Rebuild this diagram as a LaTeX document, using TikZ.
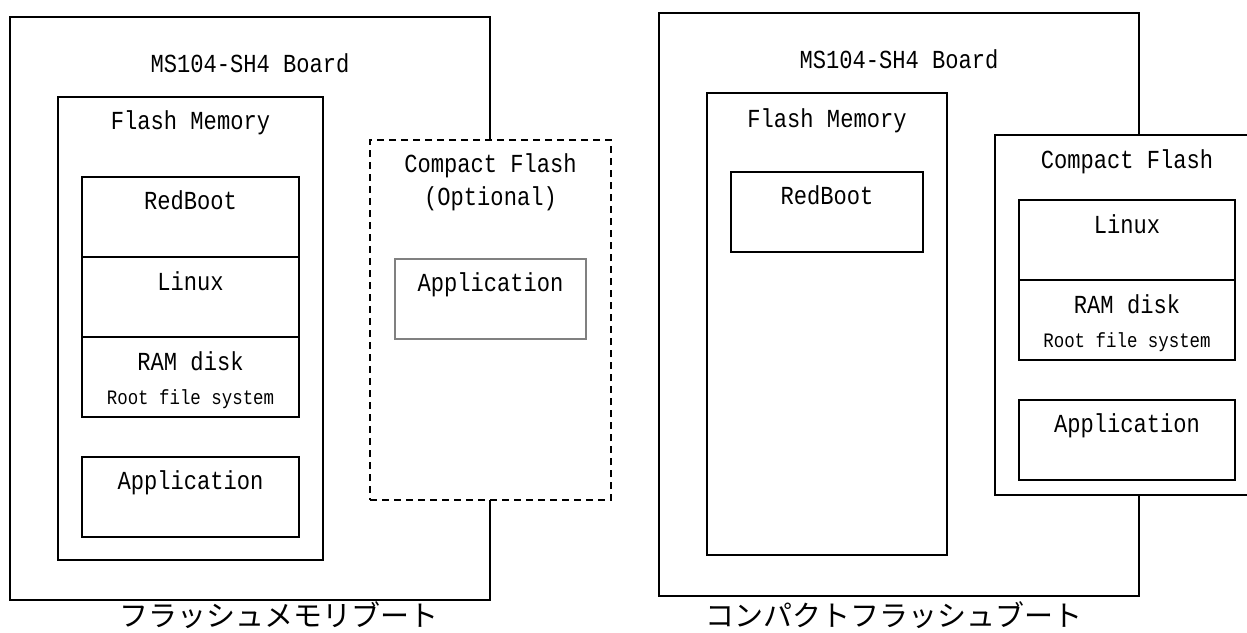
\documentclass[tikz,border=0pt]{standalone}
\usepackage{fontspec}
\usepackage{tikz}
\usetikzlibrary{positioning}
\newfontfamily\minchofont[FakeStretch=0.85]{Liberation Mono}
\newfontfamily\jpfont{Noto Sans CJK JP}

\tikzset{
  memblock/.style={draw, line width=1.5pt, fill=white, inner sep=0pt, outer sep=0pt, anchor=north west},
  optblock/.style={memblock, dash pattern=on 7pt off 5pt},
  appblock/.style={memblock, draw=black!50},
  lbl/.style={font=\minchofont\fontsize{26pt}{33pt}\selectfont, inner sep=0pt, anchor=base},
  smalllbl/.style={lbl, font=\minchofont\fontsize{20.5pt}{24pt}\selectfont},
  caption/.style={font=\jpfont\fontsize{29pt}{32pt}\selectfont, inner sep=0pt, anchor=base}
}

\begin{document}
\begin{tikzpicture}[x=1pt, y=-1pt]
  \useasboundingbox[fill=white] (0,0) rectangle (1247,632);

  % flash memory boot (left)
  \node[memblock, minimum width=480pt, minimum height=583pt] (lbrd) at (10,17) {};
  \node[lbl] (lbrdT) at ([yshift=-55pt]lbrd.north) {MS104-SH4 Board};
  \node[memblock, minimum width=265pt, minimum height=463pt] (lfm) at (58,97) {};
  \node[lbl] (lfmT) at ([yshift=-32pt]lfm.north) {Flash Memory};
  \node[memblock, minimum width=217pt, minimum height=80pt] (lrb) at (82,177) {};
  \node[memblock, minimum width=217pt, minimum height=80pt, below=0pt of lrb] (llx) {};
  \node[memblock, minimum width=217pt, minimum height=80pt, below=0pt of llx] (lram) {};
  \node[memblock, minimum width=217pt, minimum height=80pt, below=40pt of lram] (lapp) {};
  \node[lbl] (lrbT) at ([yshift=-32pt]lrb.north) {RedBoot};
  \node[lbl] (llxT) at ([yshift=-33pt]llx.north) {Linux};
  \node[lbl] (lramT) at ([yshift=-33pt]lram.north) {RAM disk};
  \node[smalllbl] (lrootT) at ([yshift=-67pt]lram.north) {Root file system};
  \node[lbl] (lappT) at ([yshift=-32pt]lapp.north) {Application};
  % optional compact flash
  \node[optblock, minimum width=241pt, minimum height=360pt] (lcf) at (370,140) {};
  \node[lbl] (lcfT) at ([yshift=-32pt]lcf.north) {Compact Flash};
  \node[lbl] (lcfoptT) at ([yshift=-65pt]lcf.north) {(Optional)};
  \node[appblock, minimum width=191pt, minimum height=80pt] (lcfapp) at (395,259) {};
  \node[lbl] (lcfappT) at ([yshift=-32pt]lcfapp.north) {Application};
  \node[caption] (lcap) at (279,626) {フラッシュメモリブート};

  % compact flash boot (right)
  \node[memblock, minimum width=480pt, minimum height=583pt] (rbrd) at (659,13) {};
  \node[lbl] (rbrdT) at ([yshift=-55pt]rbrd.north) {MS104-SH4 Board};
  \node[memblock, minimum width=240pt, minimum height=462pt] (rfm) at (707,93) {};
  \node[lbl] (rfmT) at ([yshift=-34pt]rfm.north) {Flash Memory};
  \node[memblock, minimum width=192pt, minimum height=80pt] (rrb) at (731,172) {};
  \node[lbl] (rrbT) at ([yshift=-32pt]rrb.north) {RedBoot};
  \node[memblock, minimum width=264pt, minimum height=360pt] (rcf) at (995,135) {};
  \node[lbl] (rcfT) at ([yshift=-33pt]rcf.north) {Compact Flash};
  \node[memblock, minimum width=216pt, minimum height=80pt] (rlx) at (1019,200) {};
  \node[memblock, minimum width=216pt, minimum height=80pt, below=0pt of rlx] (rram) {};
  \node[memblock, minimum width=216pt, minimum height=80pt, below=40pt of rram] (rapp) {};
  \node[lbl] (rlxT) at ([yshift=-33pt]rlx.north) {Linux};
  \node[lbl] (rramT) at ([yshift=-33pt]rram.north) {RAM disk};
  \node[smalllbl] (rrootT) at ([yshift=-67pt]rram.north) {Root file system};
  \node[lbl] (rappT) at ([yshift=-32pt]rapp.north) {Application};
  \node[caption] (rcap) at (894,626) {コンパクトフラッシュブート};
\end{tikzpicture}
\end{document}
